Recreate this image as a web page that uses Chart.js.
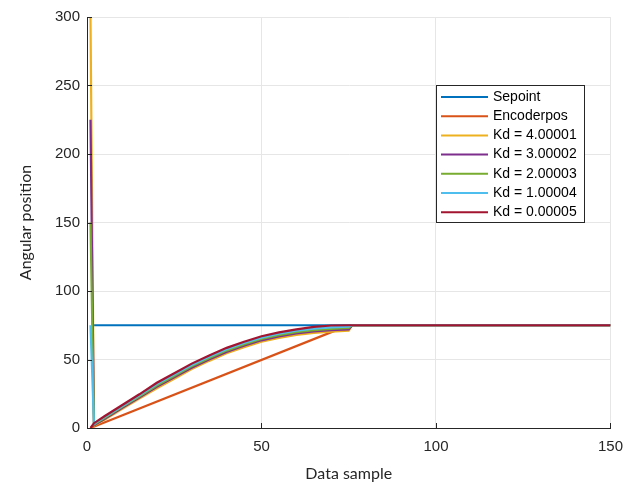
<!DOCTYPE html>
<html>
<head>
<meta charset="utf-8">
<script src="https://cdn.jsdelivr.net/npm/chart.js@4.4.1/dist/chart.umd.min.js"></script>
<style>
  html, body { margin: 0; padding: 0; background: #fff; }
  #wrap { width: 633px; height: 483px; }
</style>
</head>
<body>
<div id="wrap"><canvas id="myChart" width="633" height="483"></canvas></div>
<script>
// datos
const xTicks = [0, 50, 100, 150];
const yTicks = [0, 50, 100, 150, 200, 250, 300];

const setpointX = [2, 150];
const setpointY = [75, 75];

const encoderX = [1, 72, 76, 150];
const encoderY = [0, 72, 75, 75];

const sampleX = [1, 2, 5, 10, 15, 20, 25, 30, 35, 40, 45, 50, 55, 60, 65, 70, 75, 76, 150];
const kd4 = [300, 1.5, 6, 13.8, 21.5, 29, 36, 43, 49, 54.5, 59, 63, 65.8, 68, 69.5, 70.4, 71, 75, 75];
const kd3 = [225, 2, 6.6, 14.5, 22.3, 30, 37, 44, 50, 55.5, 60, 64, 66.8, 69, 70.5, 71.4, 72, 75, 75];
const kd2 = [150, 2.5, 7.2, 15.2, 23, 31, 38, 45, 51, 56.5, 61, 65, 67.8, 70, 71.5, 72.4, 73, 75, 75];
const kd1 = [75, 3, 7.9, 15.9, 23.8, 32, 39, 46, 52, 57.5, 62, 66, 68.8, 71, 72.6, 73.5, 74, 75, 75];
const kd0 = [0, 3.5, 8.6, 16.6, 24.6, 33, 40, 47, 53, 58.5, 63, 67, 69.8, 72, 73.8, 74.8, 75, 75, 75];

const labels = ["Sepoint", "Encoderpos", "Kd = 4.00001", "Kd = 3.00002", "Kd = 2.00003", "Kd = 1.00004", "Kd = 0.00005"];
const colores = ["#0072BD", "#D95319", "#EDB120", "#7E2F8E", "#77AC30", "#4DBEEE", "#A2142F"];

function puntos(xs, ys) {
  return xs.map((x, i) => ({ x: x, y: ys[i] }));
}

const series = [
  puntos(setpointX, setpointY),
  puntos(encoderX, encoderY),
  puntos(sampleX, kd4),
  puntos(sampleX, kd3),
  puntos(sampleX, kd2),
  puntos(sampleX, kd1),
  puntos(sampleX, kd0)
];

const datasets = series.map((data, i) => ({
  label: labels[i],
  data: data,
  borderColor: colores[i],
  backgroundColor: colores[i],
  borderWidth: 2.2,
  pointRadius: 0,
  tension: 0,
  fill: false,
  order: series.length - i
}));

// leyenda dentro del grafico y ticks hacia adentro (estilo matlab)
const matlabPlugin = {
  id: "matlab",
  afterDraw(chart) {
    const ctx = chart.ctx;
    const xs = chart.scales.x;
    const ys = chart.scales.y;
    const area = chart.chartArea;
    ctx.save();
    ctx.strokeStyle = "#262626";
    ctx.lineWidth = 1;
    ctx.beginPath();
    xTicks.forEach(v => {
      const px = Math.round(xs.getPixelForValue(v)) + 0.5;
      ctx.moveTo(px, area.bottom);
      ctx.lineTo(px, area.bottom - 5);
    });
    yTicks.forEach(v => {
      const py = Math.round(ys.getPixelForValue(v)) + 0.5;
      ctx.moveTo(area.left, py);
      ctx.lineTo(area.left + 5, py);
    });
    ctx.stroke();

    const bx = 436, by = 85, bw = 148, bh = 137;
    ctx.fillStyle = "#fff";
    ctx.fillRect(bx, by, bw, bh);
    ctx.strokeStyle = "#262626";
    ctx.strokeRect(bx + 0.5, by + 0.5, bw, bh);
    ctx.font = "14px Arial, 'Liberation Sans', sans-serif";
    ctx.textBaseline = "middle";
    ctx.textAlign = "left";
    chart.data.datasets.forEach((ds, i) => {
      const y = 97 + i * 19.2;
      ctx.strokeStyle = ds.borderColor;
      ctx.lineWidth = 2;
      ctx.beginPath();
      ctx.moveTo(441, y);
      ctx.lineTo(488, y);
      ctx.stroke();
      ctx.fillStyle = "#000";
      ctx.fillText(ds.label, 493, y);
    });
    ctx.restore();
  }
};

const tickFont = { family: "Arial, 'Liberation Sans', sans-serif", size: 15 };
const titleFont = { family: "Lato, sans-serif", size: 16 };

new Chart(document.getElementById("myChart"), {
  type: "line",
  data: { datasets: datasets },
  options: {
    responsive: false,
    animation: false,
    layout: { padding: { top: 17, right: 22, left: 0, bottom: 0 } },
    plugins: {
      legend: { display: false },
      tooltip: { enabled: false }
    },
    scales: {
      x: {
        type: "linear",
        min: 0,
        max: 150,
        afterFit: s => { s.height = 55; },
        afterBuildTicks: s => { s.ticks = xTicks.map(v => ({ value: v })); },
        grid: { color: "#e6e6e6", drawTicks: false },
        border: { color: "#262626", width: 1 },
        ticks: { color: "#262626", font: tickFont, padding: 10, maxRotation: 0 },
        title: { display: true, text: "Data sample", color: "#262626", font: titleFont, padding: { top: 0, bottom: 0 } }
      },
      y: {
        type: "linear",
        min: 0,
        max: 300,
        afterFit: s => { s.width = 87; },
        afterBuildTicks: s => { s.ticks = yTicks.map(v => ({ value: v })); },
        grid: { color: "#e6e6e6", drawTicks: false },
        border: { color: "#262626", width: 1 },
        ticks: { color: "#262626", font: tickFont, padding: 7 },
        title: { display: true, text: "Angular position", color: "#262626", font: titleFont, padding: { top: 16, bottom: 0 } }
      }
    }
  },
  plugins: [matlabPlugin]
});
</script>
</body>
</html>
